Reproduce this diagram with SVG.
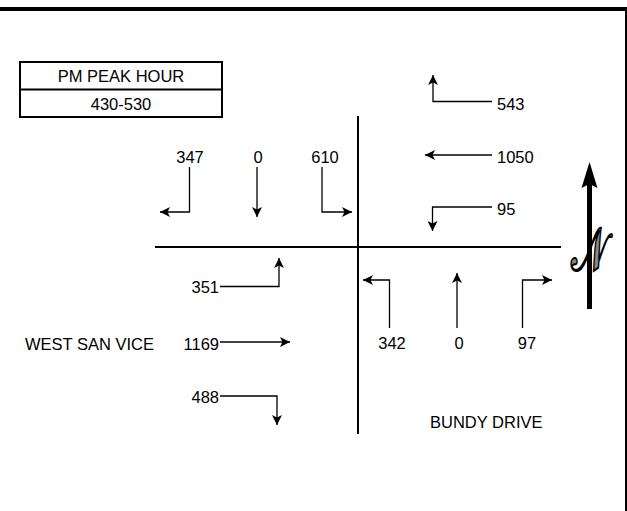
<svg xmlns="http://www.w3.org/2000/svg" width="627" height="511" viewBox="0 0 627 511">
  <style>
    .t { font-family: "Liberation Sans", Arial, sans-serif; font-size: 16.5px; fill: #000; }
    .m { text-anchor: middle; }
    .e { text-anchor: end; }
    .road { stroke: #000; stroke-width: 2; fill: none; }
    .arr { stroke: #000; stroke-width: 1.3; fill: none; marker-end: url(#ah); }
    .box { stroke: #000; stroke-width: 2; fill: #fff; }
  </style>
  <defs>
    <marker id="ah" viewBox="0 0 10 10" refX="10" refY="5" markerWidth="11" markerHeight="10" markerUnits="userSpaceOnUse" orient="auto">
      <path d="M0,0 L10,5 L0,10 L2.5,5 z" fill="#000"/>
    </marker>
  </defs>
  <rect x="0" y="0" width="627" height="511" fill="#fff"/>
  <g id="frame">
    <rect x="0" y="7" width="627" height="4" fill="#000"/>
    <line x1="626" y1="7" x2="626" y2="511" stroke="#000" stroke-width="2"/>
  </g>
  <g id="header">
    <rect class="box" x="20" y="62" width="202" height="55"/>
    <line x1="20" y1="89.5" x2="222" y2="89.5" stroke="#000" stroke-width="2"/>
    <text class="t m" x="121" y="81.5">PM PEAK HOUR</text>
    <text class="t m" x="121" y="109.5">430-530</text>
  </g>
  <g id="roads">
    <path class="road" d="M358,116 V434"/>
    <path class="road" d="M155,247 H561"/>
  </g>
  <g id="connectors">
    <path class="arr" d="M189.5,167 V212 H160"/>
    <path class="arr" d="M257,167 V217"/>
    <path class="arr" d="M322,167 V212 H352"/>
    <path class="arr" d="M492,101.5 H433 V75"/>
    <path class="arr" d="M492,155 H425"/>
    <path class="arr" d="M492,207 H432.5 V231"/>
    <path class="arr" d="M220,286.5 H279 V258"/>
    <path class="arr" d="M220,342 H290"/>
    <path class="arr" d="M220,396 H277 V425"/>
    <path class="arr" d="M389.5,328 V280 H363"/>
    <path class="arr" d="M457,328 V273"/>
    <path class="arr" d="M522.5,328 V280 H552"/>
  </g>
  <g id="labels">
    <text class="t m" x="190" y="163">347</text>
    <text class="t m" x="258" y="163">0</text>
    <text class="t m" x="325" y="163">610</text>
    <text class="t" x="497" y="110">543</text>
    <text class="t" x="497" y="163">1050</text>
    <text class="t" x="497" y="215">95</text>
    <text class="t e" x="219" y="293">351</text>
    <text class="t" x="25" y="350">WEST SAN VICE</text>
    <text class="t e" x="219" y="350">1169</text>
    <text class="t e" x="219" y="403">488</text>
    <text class="t m" x="392" y="349">342</text>
    <text class="t m" x="459" y="349">0</text>
    <text class="t m" x="527" y="349">97</text>
    <text class="t" x="430" y="428">BUNDY DRIVE</text>
  </g>
  <g id="north">
    <text transform="translate(589,252) scale(0.82,1.3)" x="0" y="14" text-anchor="middle" font-family="'DejaVu Sans', 'DejaVu Serif', 'Noto Sans', serif" font-size="46" fill="#888" stroke="#000" stroke-width="1.6">𝒩</text>
    <line x1="589.5" y1="309" x2="589.5" y2="182" stroke="#000" stroke-width="5"/>
    <path d="M589.5,162 L597.5,188 L589.5,184 L581.5,188 z" fill="#000"/>
  </g>
</svg>
